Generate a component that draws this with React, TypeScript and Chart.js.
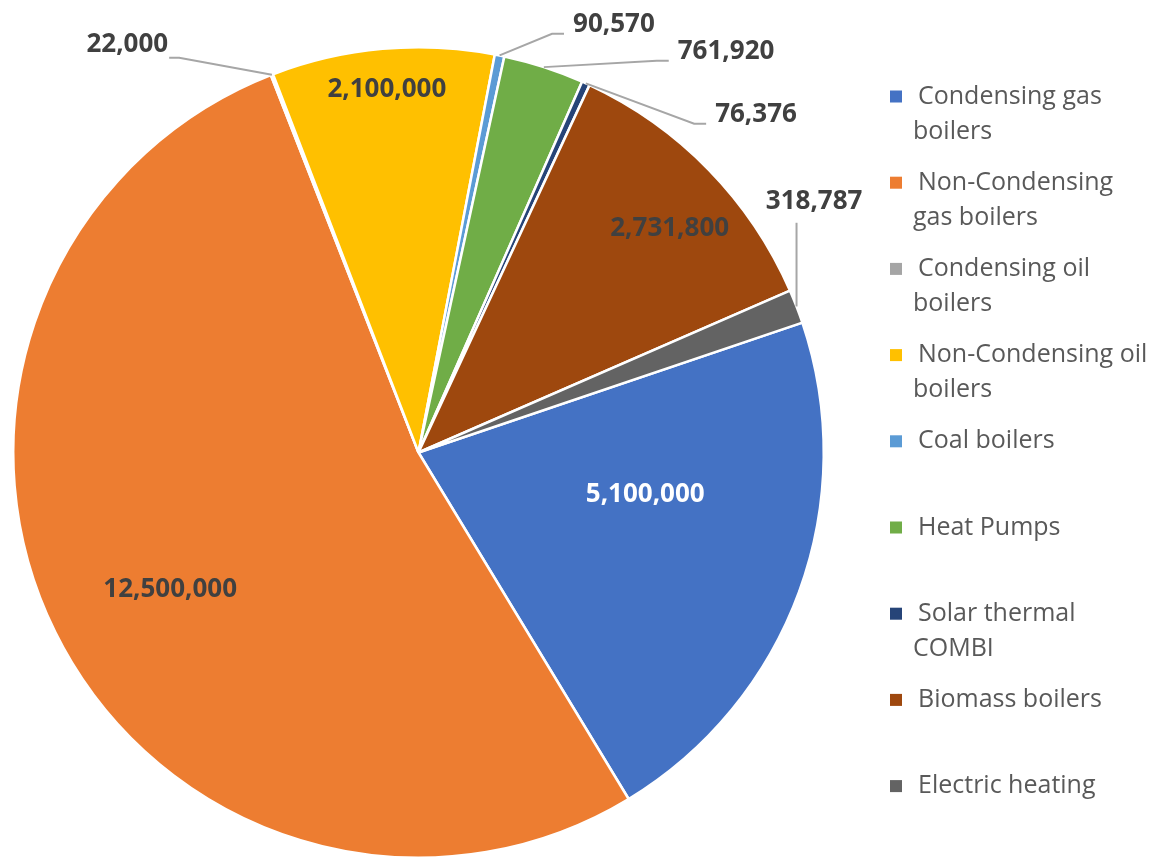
import React, { useEffect, useRef } from "react";
import { Chart, registerables } from "chart.js";

Chart.register(...registerables);

// ---------- data ----------
const categories = [
  "Condensing gas boilers",
  "Non-Condensing gas boilers",
  "Condensing oil boilers",
  "Non-Condensing oil boilers",
  "Coal boilers",
  "Heat Pumps",
  "Solar thermal COMBI",
  "Biomass boilers",
  "Electric heating",
];
const legendLines = [
  ["Condensing gas", "boilers"],
  ["Non-Condensing", "gas boilers"],
  ["Condensing oil", "boilers"],
  ["Non-Condensing oil", "boilers"],
  ["Coal boilers"],
  ["Heat Pumps"],
  ["Solar thermal", "COMBI"],
  ["Biomass boilers"],
  ["Electric heating"],
];
const values = [5100000, 12500000, 22000, 2100000, 90570, 761920, 76376, 2731800, 318787];
const colors = ["#4472C4", "#ED7D31", "#A5A5A5", "#FFC000", "#5B9BD5", "#70AD47", "#264478", "#9E480E", "#636363"];

// ---------- label placement (layout only) ----------
// inside labels: fraction of radius + angular tweak (deg) from slice mid-angle
const insideLabels: Record<number, { r: number; da: number; color?: string }> = {
  0: { r: 0.569, da: -9.6, color: "#FFFFFF" },
  1: { r: 0.7, da: -2.6 },
  3: { r: 0.898, da: 0.1 },
  7: { r: 0.83, da: 2.6 },
};
// outside labels: text centre offset from the rim point at slice mid-angle
const outsideLabels: Record<number, { dx: number; dy: number; side: "left" | "right" | "bottom" }> = {
  2: { dx: -144.6, dy: -30, side: "right" },
  4: { dx: 114.3, dy: -30.7, side: "left" },
  5: { dx: 182.2, dy: -15.4, side: "left" },
  6: { dx: 170.2, dy: 31.3, side: "left" },
  8: { dx: 17.6, dy: -104.7, side: "bottom" },
};

const FONT = "'Open Sans', 'Noto Sans', sans-serif";
const LABEL_FONT = `bold 26px ${FONT}`;
const LEGEND_FONT = `25px ${FONT}`;

const labelPlugin = {
  id: "sliceLabels",
  afterDatasetsDraw(chart: any) {
    const ctx = chart.ctx as CanvasRenderingContext2D;
    const meta = chart.getDatasetMeta(0);
    ctx.save();
    ctx.font = LABEL_FONT;
    ctx.textBaseline = "middle";
    ctx.textAlign = "center";
    meta.data.forEach((arc: any, i: number) => {
      const p = arc.getProps(["x", "y", "startAngle", "endAngle", "outerRadius"], true);
      const mid = (p.startAngle + p.endAngle) / 2;
      const text = values[i].toLocaleString("en-US");
      const ins = insideLabels[i];
      if (ins) {
        const a = mid + (ins.da * Math.PI) / 180;
        const r = p.outerRadius * ins.r;
        ctx.fillStyle = ins.color || "#404040";
        ctx.fillText(text, p.x + r * Math.cos(a), p.y + r * Math.sin(a));
        return;
      }
      const out = outsideLabels[i];
      if (!out) return;
      const ax = p.x + p.outerRadius * Math.cos(mid);
      const ay = p.y + p.outerRadius * Math.sin(mid);
      const cx = ax + out.dx;
      const cy = ay + out.dy;
      const w = ctx.measureText(text).width;
      ctx.strokeStyle = "#A6A6A6";
      ctx.lineWidth = 2;
      ctx.beginPath();
      if (out.side === "right") {
        const sx = cx + w / 2 + 1;
        const sy = cy + 13;
        ctx.moveTo(sx, sy);
        ctx.lineTo(sx + 10, sy);
        ctx.lineTo(ax, ay);
      } else if (out.side === "left") {
        const sx = cx - w / 2 - 9;
        const sy = cy + 9;
        ctx.moveTo(sx, sy);
        ctx.lineTo(sx - 12, sy);
        ctx.lineTo(ax, ay);
      } else {
        ctx.moveTo(ax, cy + 21);
        ctx.lineTo(ax, ay);
      }
      ctx.stroke();
      ctx.fillStyle = "#404040";
      ctx.fillText(text, cx, cy);
    });
    ctx.restore();
  },
};

const LEGEND_MARKER_X = 890;
const LEGEND_TOP = 96.5;
const LEGEND_STEP = 86.2;
const LEGEND_MARKER = 12;
const LEGEND_TEXT_X = 918;
const LEGEND_CONT_X = 913;
const LEGEND_LINE_H = 35;

const legendPlugin = {
  id: "sideLegend",
  afterDraw(chart: any) {
    const ctx = chart.ctx as CanvasRenderingContext2D;
    ctx.save();
    ctx.font = LEGEND_FONT;
    ctx.textBaseline = "middle";
    ctx.textAlign = "left";
    legendLines.forEach((lines, i) => {
      const y = LEGEND_TOP + i * LEGEND_STEP;
      ctx.fillStyle = colors[i];
      ctx.fillRect(LEGEND_MARKER_X, y - LEGEND_MARKER / 2, LEGEND_MARKER, LEGEND_MARKER);
      ctx.fillStyle = "#595959";
      lines.forEach((ln, k) => {
        ctx.fillText(ln, k === 0 ? LEGEND_TEXT_X : LEGEND_CONT_X, y + k * LEGEND_LINE_H);
      });
    });
    ctx.restore();
  },
};

export default function App() {
  const canvasRef = useRef<HTMLCanvasElement | null>(null);

  useEffect(() => {
    if (!canvasRef.current) return;
    const chart = new Chart(canvasRef.current, {
      type: "pie",
      data: {
        labels: categories,
        datasets: [
          {
            data: values,
            backgroundColor: colors,
            borderColor: "#FFFFFF",
            borderWidth: 2.5,
            hoverOffset: 0,
          },
        ],
      },
      options: {
        responsive: false,
        animation: false,
        devicePixelRatio: 1,
        rotation: 71.3,
        layout: { padding: { left: 12, top: 46, right: 340, bottom: 0 } },
        plugins: {
          legend: { display: false },
          tooltip: { enabled: false },
          title: { display: false },
        },
        events: [],
      },
      plugins: [labelPlugin, legendPlugin],
    });
    return () => chart.destroy();
  }, []);

  return (
    <div style={{ position: "absolute", left: 0, top: 0, width: 1165, height: 859, background: "#FFFFFF" }}>
      <canvas ref={canvasRef} width={1165} height={859} style={{ display: "block" }} />
    </div>
  );
}
